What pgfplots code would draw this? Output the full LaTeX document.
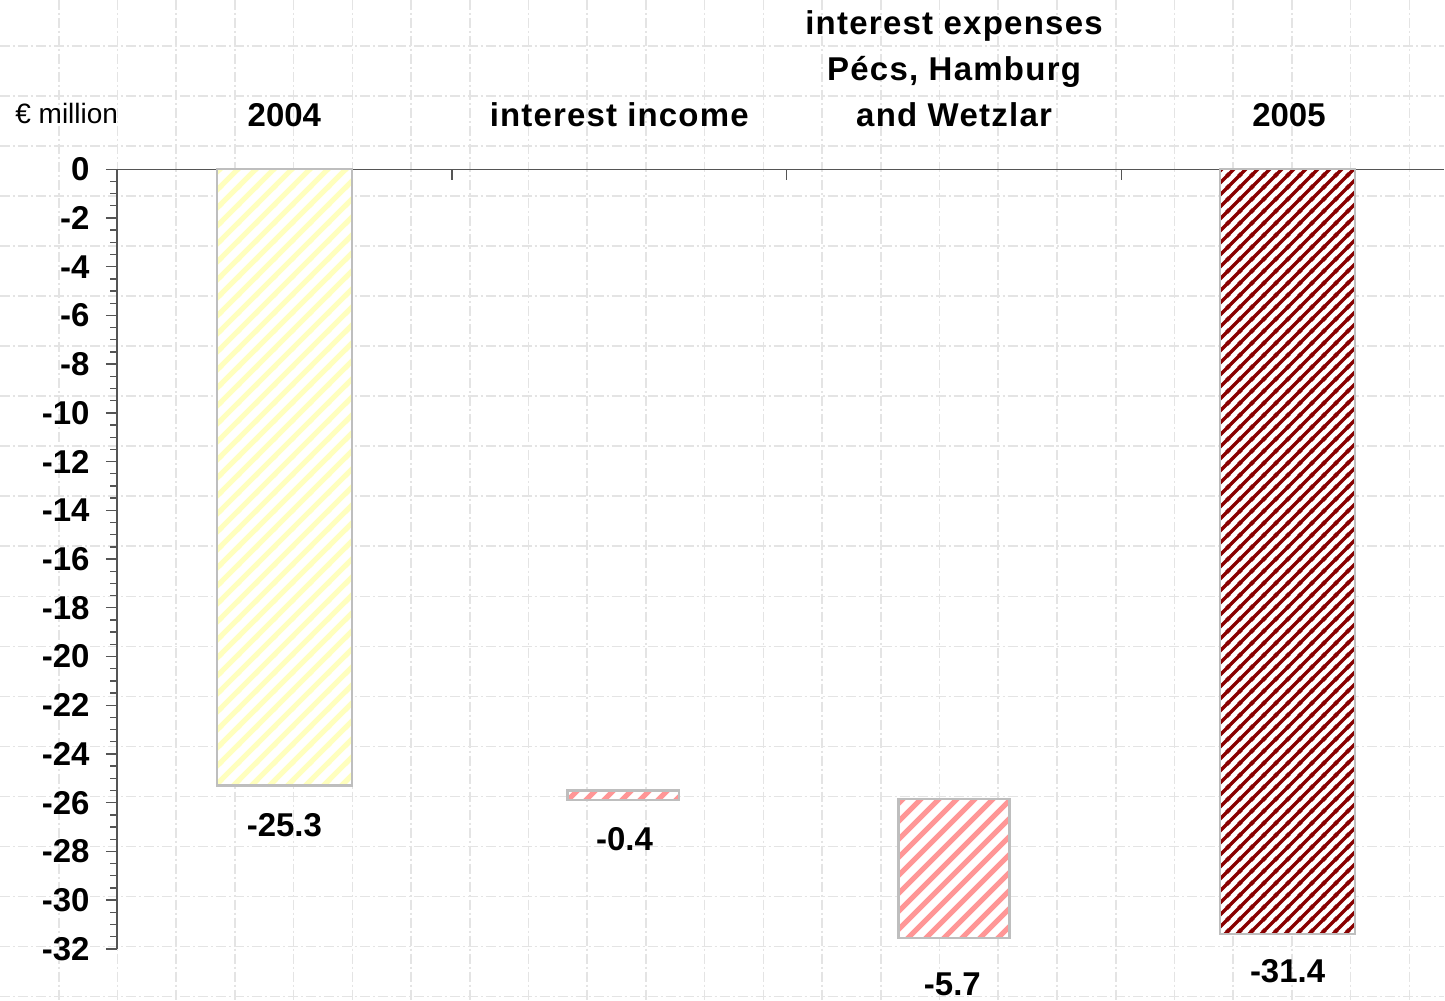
\documentclass[border=0pt]{standalone}
\usepackage{fontspec}
\setmainfont{Liberation Sans}
\usepackage{pgfplots}
\pgfplotsset{compat=1.18}
\usetikzlibrary{patterns}

\definecolor{gridgray}{HTML}{E4E4E4}
\definecolor{axisgray}{HTML}{555555}
\definecolor{barborder}{HTML}{BEBEBE}
\definecolor{paleyellow}{HTML}{FFFFBE}
\definecolor{salmon}{HTML}{FF9696}
\definecolor{darkred}{HTML}{880000}

\newcommand{\catfont}{\bfseries\fontsize{16.5}{23}\selectfont}
\newcommand{\valfont}{\bfseries\fontsize{16.5}{20}\selectfont}

% wide diagonal stripes: tile 9.2pt, stripe 2.6pt
\pgfdeclarepatternformonly{widehatch}{\pgfqpoint{0pt}{0pt}}{\pgfqpoint{9.2pt}{9.2pt}}{\pgfqpoint{9.2pt}{9.2pt}}{
  \pgfsetlinewidth{2.6pt}
  \pgfpathmoveto{\pgfqpoint{-1pt}{-1pt}}\pgfpathlineto{\pgfqpoint{10.2pt}{10.2pt}}
  \pgfpathmoveto{\pgfqpoint{-2pt}{7.2pt}}\pgfpathlineto{\pgfqpoint{2pt}{11.2pt}}
  \pgfpathmoveto{\pgfqpoint{7.2pt}{-2pt}}\pgfpathlineto{\pgfqpoint{11.2pt}{2pt}}
  \pgfusepath{stroke}
}
% dense diagonal stripes: tile 5.85pt, stripe 1.7pt
\pgfdeclarepatternformonly{densehatch}{\pgfqpoint{0pt}{0pt}}{\pgfqpoint{5.85pt}{5.85pt}}{\pgfqpoint{5.85pt}{5.85pt}}{
  \pgfsetlinewidth{1.7pt}
  \pgfpathmoveto{\pgfqpoint{-1pt}{-1pt}}\pgfpathlineto{\pgfqpoint{6.85pt}{6.85pt}}
  \pgfpathmoveto{\pgfqpoint{-2pt}{3.85pt}}\pgfpathlineto{\pgfqpoint{2pt}{7.85pt}}
  \pgfpathmoveto{\pgfqpoint{3.85pt}{-2pt}}\pgfpathlineto{\pgfqpoint{7.85pt}{2pt}}
  \pgfusepath{stroke}
}

\begin{document}
\begin{tikzpicture}
% sheet with its dash-dotted cell grid (units of half a point, y downwards)
\begin{scope}[x=0.5pt, y=-0.5pt]
  \useasboundingbox (0,0) rectangle (1445,1001);
  \fill[white] (0,0) rectangle (1445,1001);
  \begin{scope}[gridgray, line width=0.8pt, dash pattern=on 5pt off 1.5pt on 1pt off 1.5pt]
    \foreach \k in {1,...,24} \draw ({58.75*\k},0) -- ({58.75*\k},1001);
    \foreach \k in {1,...,20} \draw (0,{50.05*\k-4}) -- (1445,{50.05*\k-4});
  \end{scope}
  \node[anchor=base west, inner sep=0pt, font=\fontsize{14}{16}\selectfont] at (15,124) {€ million};
\end{scope}

\begin{axis}[
  at={(58.5pt,-84.65pt)}, anchor=north west,
  scale only axis, width=664pt, height=390pt,
  xmin=-0.5, xmax=3.464, ymin=-32, ymax=0,
  axis x line*=top, axis y line*=left,
  axis line style={axisgray, line width=0.7pt},
  xtick={0.5,1.5,2.5}, xticklabels={}, xtick align=inside,
  ytick={0,-2,...,-32}, minor y tick num=3, ytick align=outside,
  major tick length=5.5pt, minor tick length=3.3pt,
  tick style={axisgray, line width=0.7pt},
  yticklabel style={font=\catfont, anchor=east, inner sep=0pt, xshift=-8pt},
  /pgf/number format/assume math mode=true,
  clip=false,
]
% year totals, drawn down from zero
\addplot[ybar, bar shift=0pt, bar width=0.403, draw=barborder, line width=1.2pt,
  preaction={fill=white}, pattern=widehatch, pattern color=paleyellow]
  coordinates {(0,-25.3)};
\addplot[ybar, bar shift=0pt, bar width=0.403, draw=barborder, line width=1.2pt,
  preaction={fill=white}, pattern=densehatch, pattern color=darkred]
  coordinates {(2.995,-31.4)};
% changes between the two years, floating bars
\addplot[draw=barborder, line width=1.2pt, preaction={fill=white},
  pattern=widehatch, pattern color=salmon]
  coordinates {(0.846,-25.5) (1.178,-25.5) (1.178,-25.9) (0.846,-25.9)} -- cycle;
\addplot[draw=barborder, line width=1.2pt, preaction={fill=white},
  pattern=widehatch, pattern color=salmon]
  coordinates {(1.834,-25.85) (2.166,-25.85) (2.166,-31.55) (1.834,-31.55)} -- cycle;

% value labels
\node[anchor=north, inner sep=0pt, font=\valfont, yshift=-13.5pt] at (axis cs:0,-25.3) {-25.3};
\node[anchor=north, inner sep=0pt, font=\valfont, yshift=-13.2pt] at (axis cs:1.016,-25.9) {-0.4};
\node[anchor=north, inner sep=0pt, font=\valfont, yshift=-17.3pt] at (axis cs:1.995,-31.55) {-5.7};
\node[anchor=north, inner sep=0pt, font=\valfont, yshift=-12.2pt] at (axis cs:2.996,-31.4) {-31.4};

% category headings
\node[anchor=south, inner sep=0pt, font=\catfont, yshift=21pt] at (axis cs:0,0) {2004};
\node[anchor=south, inner sep=0pt, font=\catfont\addfontfeatures{LetterSpace=3.5}, yshift=21pt] at (axis cs:1,0) {interest income};
\node[anchor=south, inner sep=0pt, align=center, font=\catfont\addfontfeatures{LetterSpace=3.8}, yshift=21pt] at (axis cs:2,0) {interest expenses\\Pécs, Hamburg\\and Wetzlar};
\node[anchor=south, inner sep=0pt, font=\catfont, yshift=21pt] at (axis cs:3,0) {2005};
\end{axis}
\end{tikzpicture}
\end{document}
